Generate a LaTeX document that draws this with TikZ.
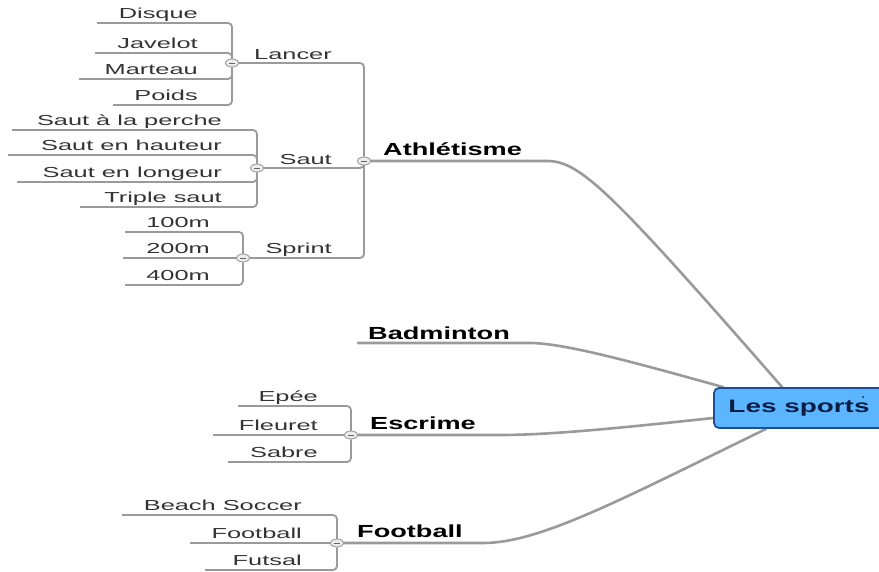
\documentclass[tikz,border=0pt]{standalone}
\usepackage{fontspec}
\setmainfont{Liberation Sans}
\newfontfamily\leaffont{Liberation Sans}[FakeStretch=1.75]
\newfontfamily\headfont{Liberation Sans}[FakeStretch=1.55]
\usetikzlibrary{shapes.geometric,backgrounds}
\definecolor{linegray}{HTML}{9A9A9A}
\definecolor{leaftext}{HTML}{333333}
\definecolor{rootfill}{HTML}{5CB6FF}
\definecolor{rootedge}{HTML}{1C4F96}
\definecolor{roottext}{HTML}{0B1C45}
\tikzset{
  leaf/.style={anchor=base east, inner sep=0pt, text=leaftext,
    font=\leaffont\fontsize{14.5}{16}\selectfont},
  head/.style={anchor=base west, inner sep=0pt, text=black,
    font=\headfont\bfseries\fontsize{17.5}{20}\selectfont},
  twig/.style={draw=linegray, line width=1.8pt, rounded corners=4pt},
  limb/.style={draw=linegray, line width=2.6pt, line cap=round},
  knob/.style={ellipse, draw=linegray, fill=gray!15, line width=0.9pt,
    minimum width=13pt, minimum height=8pt, inner sep=0pt,
    path picture={\draw[gray!80!black, line width=0.8pt]
      ([xshift=-3pt]path picture bounding box.center) --
      ([xshift=3pt]path picture bounding box.center);}},
  rootbox/.style={draw=rootedge, fill=rootfill, line width=1.8pt,
    rounded corners=5pt, minimum width=170pt, minimum height=40pt,
    text=roottext, font=\headfont\bfseries\fontsize{18}{20}\selectfont},
}
\begin{document}
\begin{tikzpicture}[x=1pt,y=-1pt]
\useasboundingbox (0,0) rectangle (879,571);

% central topic
\node[rootbox] (root) at (799,408) {Les sports};
\fill[black] (863,397) circle (0.8);

% collapse knobs
\node[knob] (kAth)    at (364,161) {};
\node[knob] (kLancer) at (232,63)  {};
\node[knob] (kSaut)   at (257,168) {};
\node[knob] (kSprint) at (243,258) {};
\node[knob] (kEsc)    at (351,435) {};
\node[knob] (kFoot)   at (337,543) {};

% main branch labels
\node[head] (tAth)  at (383,155) {Athlétisme};
\node[head] (tBad)  at (368,339) {Badminton};
\node[head] (tEsc)  at (370,429) {Escrime};
\node[head] (tFoot) at (357,537) {Football};

% second level labels
\node[leaf] (tLancer) at (332,59)  {Lancer};
\node[leaf] (tSaut)   at (332,164) {Saut};
\node[leaf] (tSprint) at (332,253) {Sprint};

% leaves: Lancer
\node[leaf] (tDisque)  at (198,18.5)  {Disque};
\node[leaf] (tJavelot) at (198,48.5)  {Javelot};
\node[leaf] (tMarteau) at (198,74.5)  {Marteau};
\node[leaf] (tPoids)   at (198,100.5) {Poids};
% leaves: Saut
\node[leaf] (tPerche)  at (222,125.5) {Saut à la perche};
\node[leaf] (tHauteur) at (222,150.5) {Saut en hauteur};
\node[leaf] (tLongeur) at (222,177.5) {Saut en longeur};
\node[leaf] (tTriple)  at (222,202.5) {Triple saut};
% leaves: Sprint
\node[leaf] (t100) at (210,227.5) {100m};
\node[leaf] (t200) at (210,253.5) {200m};
\node[leaf] (t400) at (210,280.5) {400m};
% leaves: Escrime
\node[leaf] (tEpee)    at (318,401.5) {Epée};
\node[leaf] (tFleuret) at (318,430.5) {Fleuret};
\node[leaf] (tSabre)   at (318,457.5) {Sabre};
% leaves: Football
\node[leaf] (tBeach)  at (302,510.5) {Beach Soccer};
\node[leaf] (tFoot2)  at (302,538.5) {Football};
\node[leaf] (tFutsal) at (302,565.5) {Futsal};

% free ends of the underlines
\coordinate (sDisque)  at (97,23);
\coordinate (sJavelot) at (95,53);
\coordinate (sMarteau) at (79,79);
\coordinate (sPoids)   at (113,105);
\coordinate (sPerche)  at (12,130);
\coordinate (sHauteur) at (8,155);
\coordinate (sLongeur) at (17,182);
\coordinate (sTriple)  at (80,207);
\coordinate (s100) at (125,232);
\coordinate (s200) at (123,258);
\coordinate (s400) at (125,285);
\coordinate (sEpee)    at (238,406);
\coordinate (sFleuret) at (213,435);
\coordinate (sSabre)   at (228,462);
\coordinate (sBeach)  at (122,515);
\coordinate (sFoot2)  at (190,543);
\coordinate (sFutsal) at (205,570);
\coordinate (sBad)    at (358,343);

% bends of the main branches
\coordinate (bAth)  at (547,161);
\coordinate (bBad)  at (530,343);
\coordinate (bEsc)  at (500,435);
\coordinate (bFoot) at (483,543);

% where the branches meet the central topic
\coordinate (rAth)  at ([xshift=69pt]root.north west);
\coordinate (rBad)  at ([xshift=10pt]root.north west);
\coordinate (rEsc)  at ([yshift=-10pt]root.west);
\coordinate (rFoot) at ([xshift=53pt]root.south west);

\begin{pgfonlayer}{background}
  % leaf underlines into their brackets
  \foreach \s in {sDisque,sJavelot,sMarteau,sPoids}
    \draw[twig] (\s) -| (kLancer);
  \foreach \s in {sPerche,sHauteur,sLongeur,sTriple}
    \draw[twig] (\s) -| (kSaut);
  \foreach \s in {s100,s200,s400}
    \draw[twig] (\s) -| (kSprint);
  \foreach \s in {sEpee,sFleuret,sSabre}
    \draw[twig] (\s) -| (kEsc);
  \foreach \s in {sBeach,sFoot2,sFutsal}
    \draw[twig] (\s) -| (kFoot);
  % second level into Athlétisme
  \foreach \k in {kLancer,kSaut,kSprint}
    \draw[twig] (\k) -| (kAth);
  % main branches
  \draw[limb] (kAth) -- (bAth) .. controls (580,161) and (610,190) .. (rAth);
  \draw[limb] (sBad) -- (bBad) .. controls (565,343) and (640,364) .. (rBad);
  \draw[limb] (kEsc) -- (bEsc) .. controls (550,435) and (620,428) .. (rEsc);
  \draw[limb] (kFoot) -- (bFoot) .. controls (540,543) and (620,500) .. (rFoot);
\end{pgfonlayer}
\end{tikzpicture}
\end{document}
